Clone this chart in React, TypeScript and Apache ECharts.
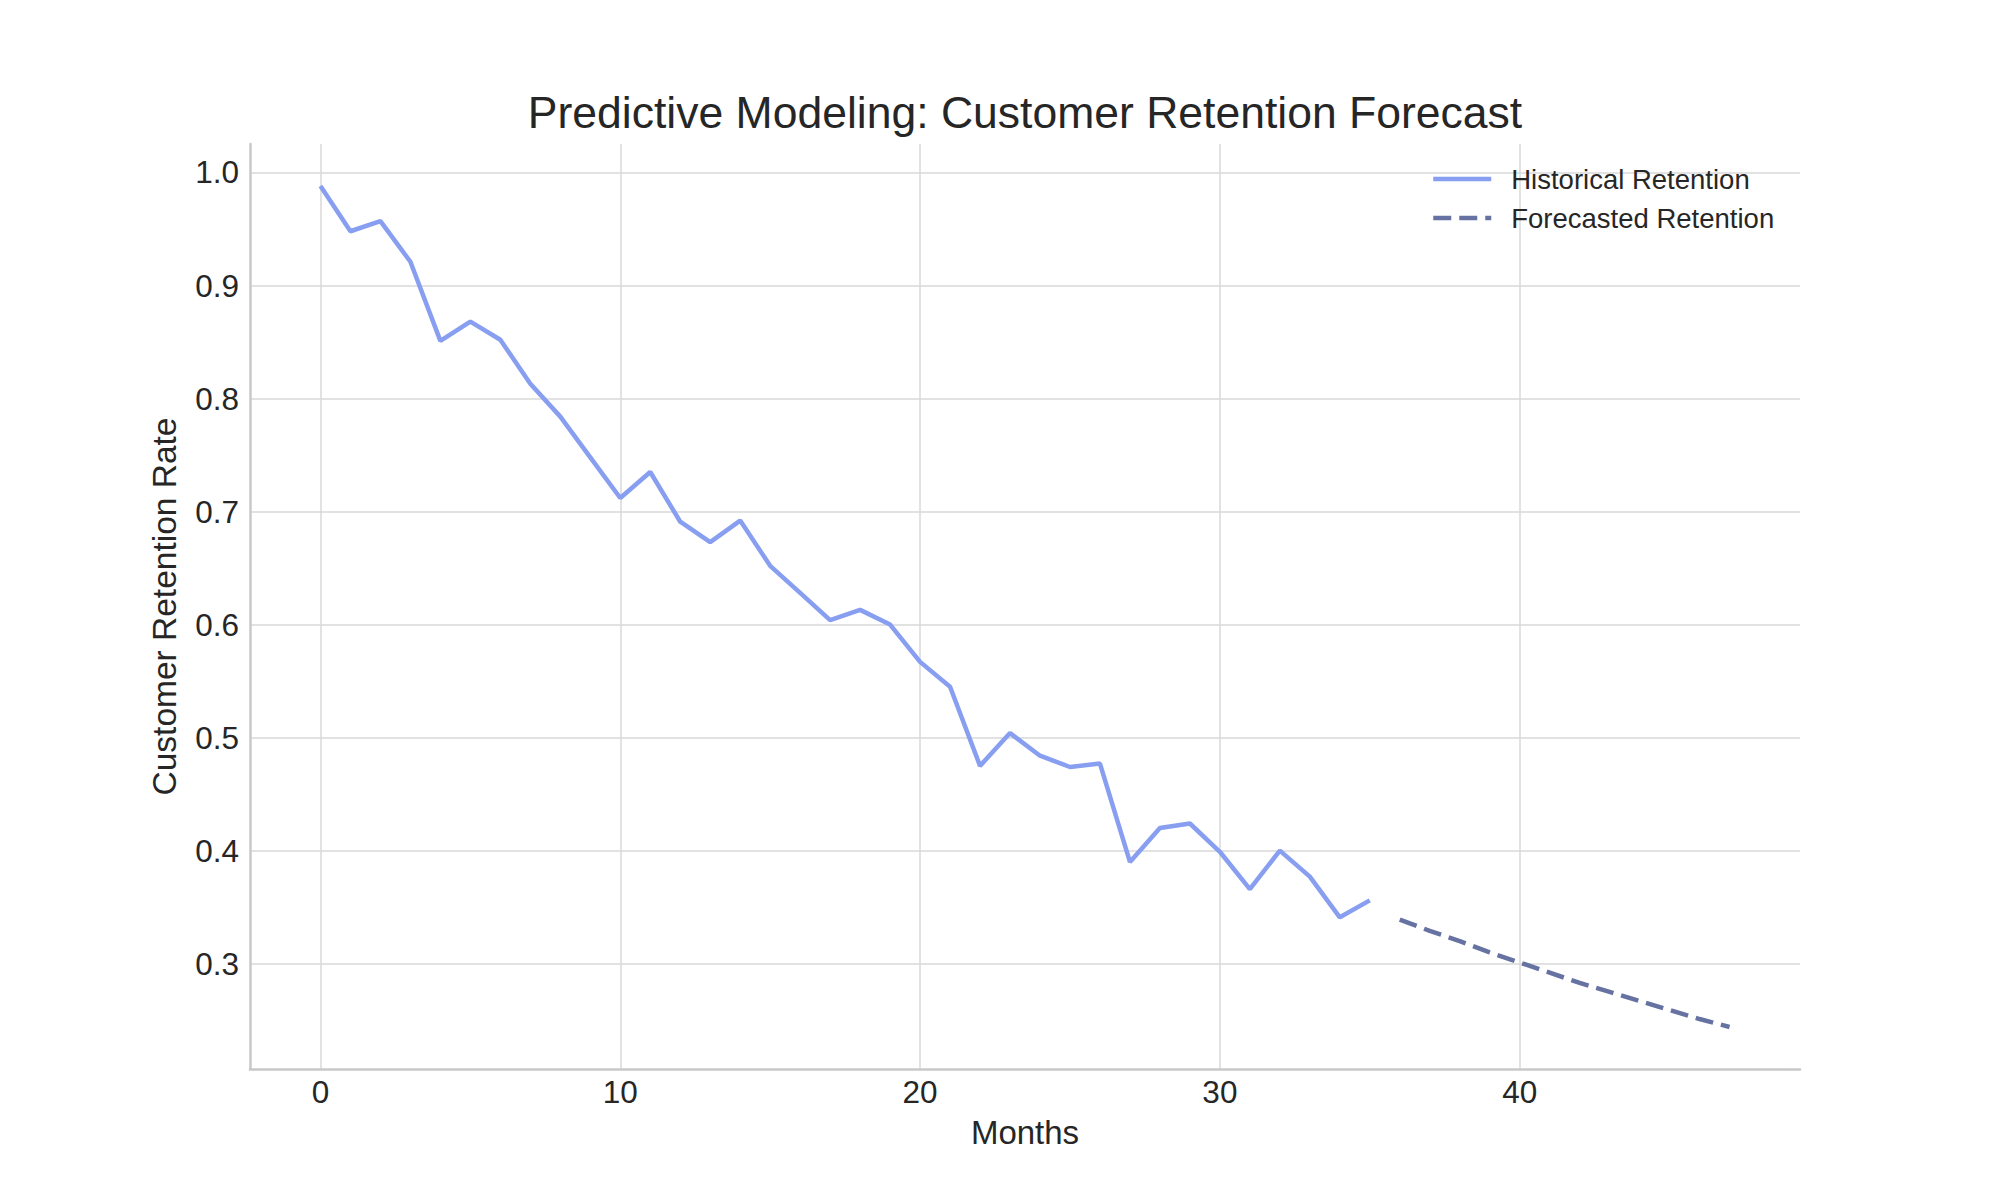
import React, { useEffect, useRef } from "react";
import * as echarts from "echarts";

const chartTitle = "Predictive Modeling: Customer Retention Forecast";
const xAxisName = "Months";
const yAxisName = "Customer Retention Rate";
const seriesNames = ["Historical Retention", "Forecasted Retention"];

// Months 0..35
const historicalRetention = [
  0.988, 0.948, 0.957, 0.921, 0.851, 0.868, 0.852, 0.813, 0.784, 0.748,
  0.712, 0.735, 0.691, 0.673, 0.692, 0.652, 0.628, 0.604, 0.613, 0.600,
  0.567, 0.545, 0.475, 0.504, 0.484, 0.474, 0.477, 0.390, 0.420, 0.424,
  0.399, 0.366, 0.400, 0.377, 0.341, 0.356,
];
const historicalStart = 0;

// Months 36..47
const forecastRetention = [
  0.339, 0.329, 0.320, 0.310, 0.301, 0.292, 0.283, 0.275, 0.267, 0.259,
  0.251, 0.244,
];
const forecastStart = 36;

const xTicks = [0, 10, 20, 30, 40];
const yTicks = [0.3, 0.4, 0.5, 0.6, 0.7, 0.8, 0.9, 1.0];

const FONT = "'Liberation Sans', Arial, sans-serif";
const TEXT = "#262626";
const HIST_COLOR = "#889ef0";
const FORE_COLOR = "#6672a2";

export default function App() {
  const ref = useRef<HTMLDivElement>(null);

  useEffect(() => {
    if (!ref.current) return;
    const chart = echarts.init(ref.current, undefined, { renderer: "svg" });

    const histData = historicalRetention.map((v, i) => [historicalStart + i, v]);
    const foreData = forecastRetention.map((v, i) => [forecastStart + i, v]);

    const allX = [...histData, ...foreData].map((d) => d[0]);
    const allY = [...histData, ...foreData].map((d) => d[1]);
    const xMinD = Math.min(...allX);
    const xMaxD = Math.max(...allX);
    const yMinD = Math.min(...allY);
    const yMaxD = Math.max(...allY);
    const xPad = (xMaxD - xMinD) * 0.05;
    const yPad = (yMaxD - yMinD) * 0.05;

    chart.setOption({
      animation: false,
      backgroundColor: "#ffffff",
      textStyle: { fontFamily: FONT, color: TEXT },
      title: {
        text: chartTitle,
        left: 1020,
        top: 85,
        textAlign: "center",
        textStyle: {
          fontFamily: FONT,
          fontSize: 44.5,
          fontWeight: "normal",
          color: TEXT,
        },
      },
      legend: {
        orient: "vertical",
        left: 1426,
        top: 160,
        itemWidth: 58,
        itemHeight: 5,
        itemGap: 11,
        data: seriesNames,
        itemStyle: { opacity: 0 },
        lineStyle: { width: 4.5 },
        textStyle: {
          fontFamily: FONT,
          fontSize: 27.5,
          lineHeight: 28,
          color: TEXT,
          padding: [0, 0, 0, 15],
        },
      },
      grid: { left: 250, right: 200, top: 144, bottom: 131 },
      xAxis: {
        type: "value",
        min: xMinD - xPad,
        max: xMaxD + xPad,
        name: xAxisName,
        nameLocation: "middle",
        nameGap: 47,
        nameTextStyle: { fontFamily: FONT, fontSize: 33, color: TEXT },
        axisLine: {
          show: true,
          onZero: false,
          lineStyle: { color: "#c8c8c8", width: 2.5 },
        },
        axisTick: { show: false, customValues: xTicks },
        axisLabel: {
          customValues: xTicks,
          fontFamily: FONT,
          fontSize: 31.5,
          color: TEXT,
          margin: 7,
          formatter: (v: number) => String(Math.round(v)),
        },
        splitLine: { show: true, lineStyle: { color: "#d8d8d8", width: 1.5 } },
      },
      yAxis: {
        type: "value",
        min: yMinD - yPad,
        max: yMaxD + yPad,
        name: yAxisName,
        nameLocation: "middle",
        nameGap: 69,
        nameTextStyle: { fontFamily: FONT, fontSize: 33.5, color: TEXT },
        axisLine: {
          show: true,
          onZero: false,
          lineStyle: { color: "#c8c8c8", width: 2.5 },
        },
        axisTick: { show: false, customValues: yTicks },
        axisLabel: {
          customValues: yTicks,
          fontFamily: FONT,
          fontSize: 31.5,
          color: TEXT,
          margin: 11,
          formatter: (v: number) => v.toFixed(1),
        },
        splitLine: { show: true, lineStyle: { color: "#d8d8d8", width: 1.5 } },
      },
      series: [
        {
          name: seriesNames[0],
          type: "line",
          data: histData,
          symbol: "none",
          showSymbol: false,
          color: HIST_COLOR,
          lineStyle: { color: HIST_COLOR, width: 4.5 },
          z: 3,
        },
        {
          name: seriesNames[1],
          type: "line",
          data: foreData,
          symbol: "none",
          showSymbol: false,
          color: FORE_COLOR,
          lineStyle: { color: FORE_COLOR, width: 4.5, type: [18, 8] },
          z: 3,
        },
      ],
    });

    return () => chart.dispose();
  }, []);

  return (
    <div
      ref={ref}
      style={{
        position: "fixed",
        left: 0,
        top: 0,
        width: 2000,
        height: 1200,
        background: "#ffffff",
      }}
    />
  );
}
